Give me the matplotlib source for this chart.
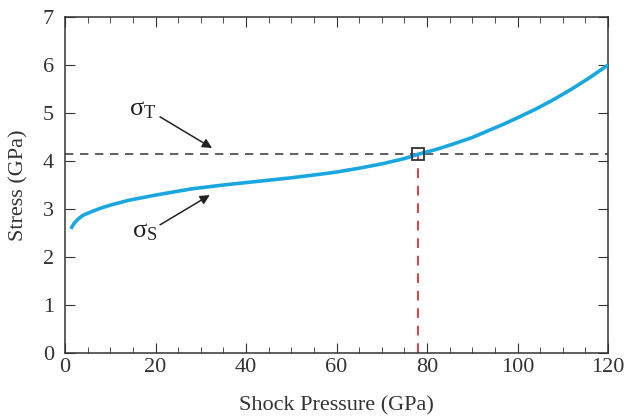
import numpy as np
import matplotlib
matplotlib.use('Agg')
import matplotlib.pyplot as plt
from matplotlib.ticker import MultipleLocator

# shock pressure (GPa) and stress (GPa)
pressure = [1.5, 2, 3, 4, 6, 8, 10, 14, 20, 28, 35, 40, 45, 50, 56, 60, 65, 70, 75, 78,
            82, 86, 90, 93, 97, 100, 104, 108, 112, 116, 120]
stress = [2.62, 2.70, 2.80, 2.87, 2.95, 3.02, 3.08, 3.18, 3.29, 3.42, 3.50, 3.55, 3.60,
          3.65, 3.72, 3.77, 3.85, 3.94, 4.05, 4.14, 4.24, 4.36, 4.49, 4.61, 4.77, 4.90,
          5.08, 5.28, 5.50, 5.74, 6.0]
sigma_t = 4.15
cross_x = 78

plt.rcParams['font.family'] = ['Liberation Serif', 'DejaVu Serif']
plt.rcParams['mathtext.fontset'] = 'custom'
plt.rcParams['mathtext.rm'] = 'Liberation Serif'
plt.rcParams['mathtext.it'] = 'Liberation Serif'

fig = plt.figure(figsize=(6.24, 4.19), dpi=100)
ax = fig.add_axes([65 / 624, 66 / 419, 543 / 624, 336 / 419])

ax.plot(pressure, stress, color='#1aa7e0', lw=2.6, zorder=3)
ax.axhline(sigma_t, color='#444444', lw=1.2, ls=(0, (5, 4)), zorder=2)
ax.plot([cross_x, cross_x], [0, sigma_t], color='#d9404a', lw=1.4, ls=(0, (5, 4)), zorder=2)
ax.plot([cross_x], [sigma_t], marker='s', ms=9, mfc='none', mec='#333333', mew=1.3, zorder=4)

arrow = dict(arrowstyle='-|>', color='#222222', lw=1.1, mutation_scale=14, shrinkA=0, shrinkB=0)
ax.text(17.2, 5.06, r'$\mathrm{\sigma}_{\mathrm{T}}$', fontsize=19, ha='center', va='center',
        color='#222222')
ax.annotate('', xy=(32.5, 4.27), xytext=(21, 4.92), arrowprops=arrow)
ax.text(17.7, 2.52, r'$\mathrm{\sigma}_{\mathrm{S}}$', fontsize=19, ha='center', va='center',
        color='#222222')
ax.annotate('', xy=(32, 3.29), xytext=(21, 2.67), arrowprops=arrow)

ax.set_xlim(0, 120)
ax.set_ylim(0, 7)
ax.xaxis.set_major_locator(MultipleLocator(20))
ax.xaxis.set_minor_locator(MultipleLocator(5))
ax.yaxis.set_major_locator(MultipleLocator(1))
ax.tick_params(which='both', direction='in', top=True, right=True, labelsize=16,
               color='#333333', labelcolor='#333333')
ax.tick_params(which='major', length=7)
ax.tick_params(which='minor', length=4)
ax.tick_params(axis='y', which='major', pad=8)
for s in ax.spines.values():
    s.set_color('#333333')
    s.set_linewidth(1.1)

ax.set_xlabel('Shock Pressure (GPa)', fontsize=16, color='#333333', labelpad=14)
ax.set_ylabel('Stress (GPa)', fontsize=16, color='#333333', labelpad=10)

fig.savefig('out.png', dpi=100)
